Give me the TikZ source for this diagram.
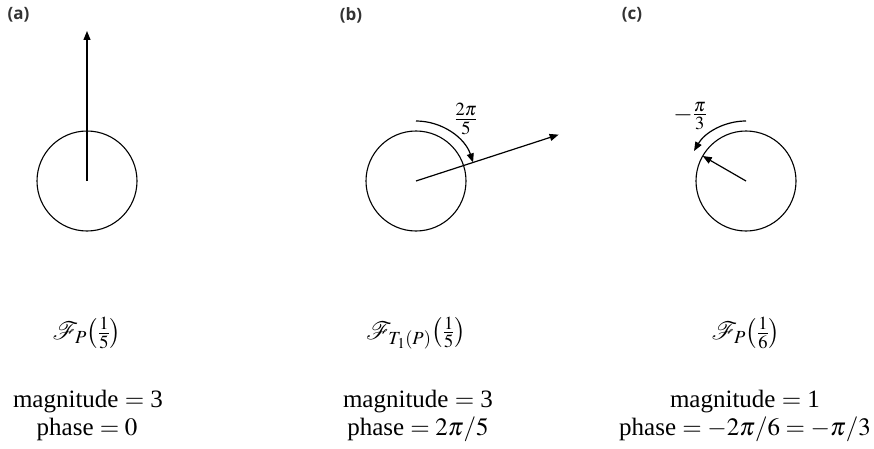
\documentclass[tikz,border=0pt]{standalone}
\usepackage{mathptmx}
\usepackage{fontspec}
\setmainfont{Liberation Serif}
\newfontfamily\panelfont{Open Sans}
\usetikzlibrary{positioning, arrows.meta}
\definecolor{panelgray}{HTML}{333333}

\begin{document}
\begin{tikzpicture}[x=1pt, y=1pt,
    vec/.style={line width=1.2pt, -{Triangle[length=9pt, width=7pt]}},
    ring/.style={line width=1.1pt},
    panel/.style={font=\panelfont\bfseries\fontsize{17}{19}\selectfont, text=panelgray, inner sep=0pt},
    formula/.style={font=\fontsize{25}{27}\selectfont, inner sep=0pt}]
  \useasboundingbox (0,0) rectangle (874,448);

  % (a) phase 0
  \coordinate (ca) at (87,267);
  \coordinate (ta) at ([shift={(90:150)}]ca);
  \node[panel] (pnla) at (18.5,433) {(a)};
  \draw[ring] (ca) circle (50);
  \draw[vec] (ca) -- (ta);
  \node[formula] (fa) at (87,115) {$\mathcal{F}_P\!\left(\frac{1}{5}\right)$};
  \node[formula, anchor=base] (ma) at (88,41) {magnitude $=$ 3};
  \node[formula, anchor=base] (pa) at (87,13) {phase $=0$};

  % (b) phase 2pi/5
  \coordinate (cb) at (416,267);
  \coordinate (tb) at ([shift={(18:150)}]cb);
  \coordinate (sb) at ([shift={(90:60)}]cb);
  \node[panel] (pnlb) at (351,433) {(b)};
  \draw[ring] (cb) circle (50);
  \draw[vec] (cb) -- (tb);
  \draw[vec] (sb) arc[start angle=90, end angle=18, radius=60];
  \node[formula] (ab) at (466,329) {$\frac{2\pi}{5}$};
  \node[formula] (fb) at (416,115) {$\mathcal{F}_{T_1(P)}\!\left(\frac{1}{5}\right)$};
  \node[formula, anchor=base] (mb) at (418,41) {magnitude $=$ 3};
  \node[formula, anchor=base] (pb) at (418,13) {phase $=2\pi/5$};

  % (c) phase -pi/3
  \coordinate (cc) at (746,267);
  \coordinate (tc) at ([shift={(150:50)}]cc);
  \coordinate (sc) at ([shift={(90:60)}]cc);
  \node[panel] (pnlc) at (632,433) {(c)};
  \draw[ring] (cc) circle (50);
  \draw[vec] (cc) -- (tc);
  \draw[vec] (sc) arc[start angle=90, end angle=150, radius=60];
  \node[formula] (ac) at (690,332) {$-\frac{\pi}{3}$};
  \node[formula] (fc) at (746,115) {$\mathcal{F}_P\!\left(\frac{1}{6}\right)$};
  \node[formula, anchor=base] (mc) at (745,41) {magnitude $=$ 1};
  \node[formula, anchor=base] (pc) at (745,13) {phase $=-2\pi/6=-\pi/3$};
\end{tikzpicture}
\end{document}
